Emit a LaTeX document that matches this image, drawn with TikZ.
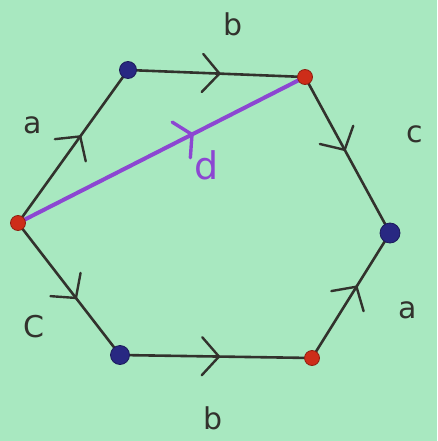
\documentclass[tikz,border=0pt]{standalone}
\usepackage{fontspec}
\setsansfont{DejaVu Sans}
\usetikzlibrary{decorations.markings}
\definecolor{bg}{RGB}{168,232,192}
\definecolor{vred}{RGB}{205,45,25}
\definecolor{vblue}{RGB}{40,40,130}
\definecolor{edgec}{RGB}{50,50,45}
\definecolor{purp}{RGB}{140,70,210}
\tikzset{
  vr/.style={circle,fill=vred,draw=vred!70!black,line width=0.8pt,minimum size=15pt,inner sep=0pt},
  vb/.style={circle,fill=vblue,draw=vblue!70!black,line width=0.8pt,minimum size=17pt,inner sep=0pt},
  side/.style={draw=edgec,line width=2.6pt,
    postaction={decorate,decoration={markings,mark=at position #1 with {\draw[edgec,line width=2.4pt,line cap=round,line join=round] (-14pt,-19pt) -- (3pt,0pt) -- (-14pt,19pt);}}}},
  side/.default=0.55,
  diag/.style={draw=purp,line width=4pt,
    postaction={decorate,decoration={markings,mark=at position 0.6 with {\draw[purp,line width=3.4pt,line cap=round,line join=round] (-10pt,-20pt) -- (2pt,0pt) -- (-10pt,20pt);}}}},
  lab/.style={font=\sffamily\fontsize{30}{30}\selectfont,text=edgec},
}
\begin{document}
\begin{tikzpicture}[x=1pt,y=-1pt]
\fill[bg] (0,0) rectangle (437,441);
\useasboundingbox (0,0) rectangle (437,441);
\coordinate (L) at (18,223);
\coordinate (TL) at (128,70);
\coordinate (TR) at (305,77);
\coordinate (R) at (390,233);
\coordinate (BR) at (312,358);
\coordinate (BL) at (120,355);
\draw[diag] (L) -- (TR);
\draw[side=0.55] (L) -- (TL);
\draw[side=0.5] (TL) -- (TR);
\draw[side=0.45] (TR) -- (R);
\draw[side=0.55] (L) -- (BL);
\draw[side=0.5] (BL) -- (BR);
\draw[side=0.55] (BR) -- (R);
\node[vr] (nL) at (L) {};
\node[vb] (nTL) at (TL) {};
\node[vr] (nTR) at (TR) {};
\node[vb,minimum size=20pt] (nR) at (R) {};
\node[vr] (nBR) at (BR) {};
\node[vb,minimum size=19pt] (nBL) at (BL) {};
\node[lab] (lb1) at (233,24) {b};
\node[lab] (la1) at (33,125) {a};
\node[lab] (lc1) at (415,134) {c};
\node[lab,text=purp,font=\sffamily\fontsize{38}{38}\selectfont] (ld) at (207,165) {d};
\node[lab] (lc2) at (34,327) {C};
\node[lab] (la2) at (408,310) {a};
\node[lab] (lb2) at (213,418) {b};
\end{tikzpicture}
\end{document}
